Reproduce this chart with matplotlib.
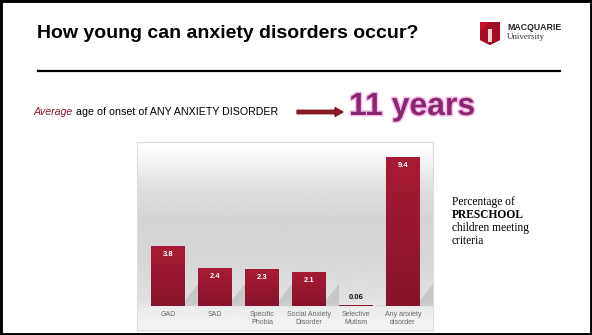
import numpy as np
import matplotlib.pyplot as plt
import matplotlib.patheffects as pe
from matplotlib.colors import LinearSegmentedColormap
from matplotlib.patches import Rectangle, Polygon, FancyArrow

categories = ['GAD', 'SAD', 'Specific\nPhobia', 'Social Anxiety\nDisorder',
              'Selective\nMutism', 'Any anxiety\ndisorder']
values = [3.8, 2.4, 2.3, 2.1, 0.06, 9.4]
value_labels = ['3.8', '2.4', '2.3', '2.1', '0.06', '9.4']

W, H = 592, 335
fig = plt.figure(figsize=(W / 100, H / 100), dpi=100)
fig.patch.set_facecolor('white')


def px(x, y):
    # pixel position on the slide -> figure fraction
    return x / W, 1 - y / H


# slide frame
fig.add_artist(Rectangle((0, 0), 1, 1, transform=fig.transFigure, fill=False,
                         edgecolor='black', linewidth=3.5))

# title + rule
fig.text(*px(37, 33), 'How young can anxiety disorders occur?', fontsize=14,
         fontweight='bold', family='Liberation Sans', va='center', ha='left')
fig.add_artist(plt.Line2D([38 / W, 560 / W], [1 - 71 / H] * 2,
                          transform=fig.transFigure, color='black', linewidth=1.6))

# logo
sx, sy = 480, 22
shield = Polygon([px(sx, sy), px(sx + 20, sy), px(sx + 20, sy + 18),
                  px(sx + 10, sy + 23), px(sx, sy + 18)],
                 closed=True, transform=fig.transFigure, facecolor='#c8102e',
                 edgecolor='none')
fig.add_artist(shield)
fig.add_artist(Polygon([px(sx, sy + 9), px(sx + 10, sy), px(sx + 20, sy),
                        px(sx + 20, sy + 18), px(sx + 10, sy + 23), px(sx, sy + 18)],
                       closed=True, transform=fig.transFigure, facecolor='#a50d25',
                       edgecolor='none'))
fig.add_artist(Rectangle(px(sx + 8, sy + 20), 4 / W, 13 / H, transform=fig.transFigure,
                         facecolor='#f2d0d4', edgecolor='none'))
fig.text(*px(507, 28), 'MACQUARIE', fontsize=6.3, fontweight='bold',
         family='Liberation Sans', va='center', color='#222222')
fig.text(*px(507, 37), 'University', fontsize=6.4, family='Liberation Serif',
         va='center', color='#333333')

# onset line
t_avg = fig.text(*px(34, 112), 'Average', fontsize=7.7, style='italic',
                 family='Liberation Sans', color='#8b1a2e', va='center')
r = fig.canvas.get_renderer()
bb = t_avg.get_window_extent(r)
fig.text((bb.x1 + 2.5) / W, 1 - 112 / H, 'age of onset of ANY ANXIETY DISORDER',
         fontsize=7.7, family='Liberation Sans', color='black', va='center')
fig.add_artist(FancyArrow(297 / W, 1 - 112 / H, 46 / W, 0, width=3.5 / H,
                          head_width=9 / H, head_length=8 / W,
                          length_includes_head=True, transform=fig.transFigure,
                          color='#8b1a2a'))
fig.text(*px(349, 107), '11 years', fontsize=23, fontweight='bold',
         family='Liberation Sans', color='#8a2572', va='center',
         path_effects=[pe.withStroke(linewidth=2.2, foreground='#f4bde6')])

# chart panel
ax = fig.add_axes([137 / W, 5 / H, 296 / W, 188 / H])
x = np.arange(len(values))
ax.set_xlim(-0.66, 5.64)
ax.set_ylim(-1.52, 10.41)

bg = np.interp(np.linspace(0, 1, 300),
               [0, 0.106, 0.16, 0.37, 0.585, 0.745, 0.88, 0.96, 1.0],
               [0.96, 0.93, 0.88, 0.84, 0.83, 0.87, 0.95, 0.99, 1.0])[:, None]
ax.imshow(bg, extent=[-0.66, 5.64, -1.52, 10.41], aspect='auto', cmap='gray',
          vmin=0, vmax=1, zorder=0, origin='lower')

width = 0.72
# soft shadows to the right of each bar
for xi, v in zip(x, values):
    xr = xi + width / 2
    sh = min(v, 1.4)
    ax.add_patch(Polygon([(xr, 0), (xr, sh * 0.25), (xr + 0.28, sh),
                          (xr + 0.28, 0)], closed=True, facecolor='#9a9a9a',
                         alpha=0.35, edgecolor='none', zorder=1))

bars = ax.bar(x, values, width=width, color='#9a1830', edgecolor='none', zorder=2)
bar_cmap = LinearSegmentedColormap.from_list('bar', ['#85132a', '#a81b34'])
grad = np.linspace(0, 1, 100)[:, None]
for b, v, lab in zip(bars, values, value_labels):
    x0 = b.get_x()
    ax.imshow(grad, extent=[x0, x0 + b.get_width(), 0, v], aspect='auto',
              cmap=bar_cmap, origin='lower', zorder=3, clip_path=b)
    if v > 1:
        ax.text(x0 + b.get_width() / 2, v - 0.5, lab, ha='center', va='center',
                color='white', fontsize=5.5, fontweight='bold',
                family='Liberation Sans', zorder=4)
    else:
        ax.text(x0 + b.get_width() / 2, v + 0.5, lab, ha='center', va='center',
                color='#111111', fontsize=5.5, fontweight='bold',
                family='Liberation Sans', zorder=4)

for xi, c in zip(x, categories):
    ax.text(xi, -0.3, c, ha='center', va='top', color='#666666', fontsize=5,
            family='Liberation Sans', linespacing=1.3)

ax.set_xticks([])
ax.set_yticks([])
for s in ax.spines.values():
    s.set_color('#dddddd')
    s.set_linewidth(0.8)

# side note
note = [('Percentage of', 'normal', 202), ('PRESCHOOL', 'bold', 215),
        ('children meeting', 'normal', 228), ('criteria', 'normal', 241)]
for txt, wt, yy in note:
    fig.text(*px(452, yy), txt, fontsize=8.3, fontweight=wt,
             family='Liberation Serif', va='center')

fig.savefig('out.png', dpi=100)
